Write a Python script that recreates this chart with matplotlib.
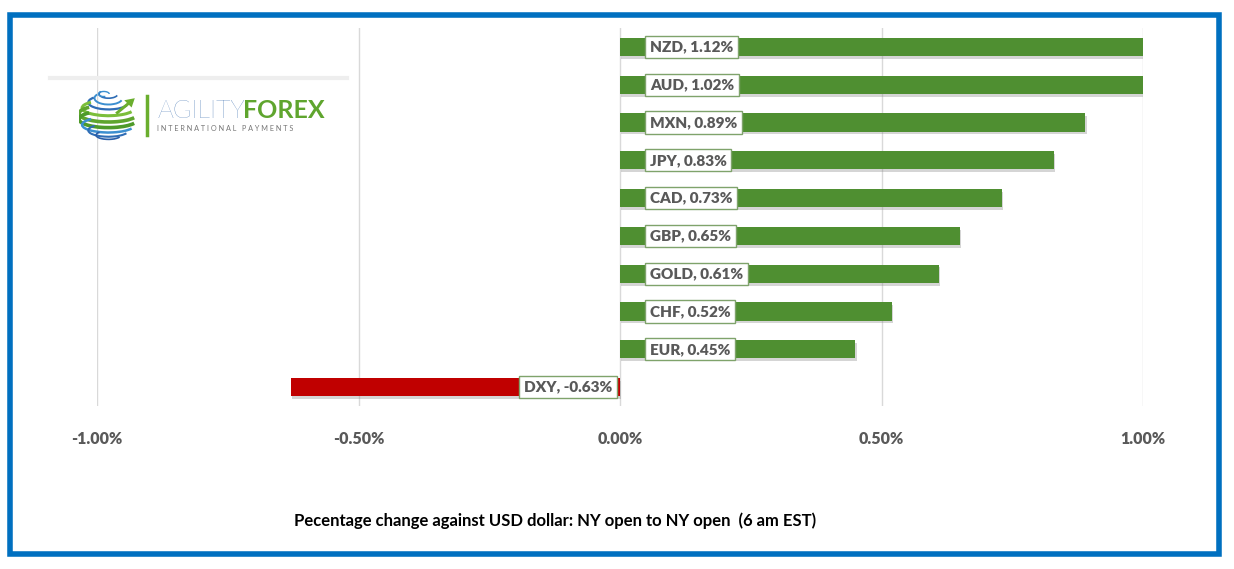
import numpy as np
import matplotlib
matplotlib.use('Agg')
import matplotlib.pyplot as plt
from matplotlib.patches import Rectangle, Arc, FancyArrow
from matplotlib.lines import Line2D
import matplotlib.patheffects as pe

plt.rcParams['font.family'] = ['Lato', 'DejaVu Sans']

# dados (variação % contra USD)
moedas = ['NZD', 'AUD', 'MXN', 'JPY', 'CAD', 'GBP', 'GOLD', 'CHF', 'EUR', 'DXY']
variacao = [1.12, 1.02, 0.89, 0.83, 0.73, 0.65, 0.61, 0.52, 0.45, -0.63]
ticks = [-1.0, -0.5, 0.0, 0.5, 1.0]
legenda = 'Pecentage change against USD dollar: NY open to NY open  (6 am EST)'

verde = '#4F8F31'
vermelho = '#C00000'
cinza_txt = '#595959'

fig = plt.figure(figsize=(12.34, 5.69), dpi=100)
W, H = 1234, 569
ax = fig.add_axes([97 / W, 1 - 406 / H, (1143 - 97) / W, (406 - 28) / H])

y = np.arange(len(moedas))[::-1]
cores = [verde if v >= 0 else vermelho for v in variacao]
sombra = [pe.SimplePatchShadow(offset=(1, -2), shadow_rgbFace='#888888', alpha=0.35), pe.Normal()]
barras = ax.barh(y, variacao, height=0.48, color=cores, zorder=3)
for b in barras:
    b.set_path_effects(sombra)

for xi in ticks:
    ax.axvline(xi, color='#D9D9D9', lw=1, zorder=1)

# rótulos das barras
for yi, m, v in zip(y, moedas, variacao):
    txt = '%s, %.2f%%' % (m, v)
    if v >= 0:
        ax.annotate(txt, xy=(0, yi), xytext=(30, 0), textcoords='offset pixels',
                    ha='left', va='center', fontsize=11, fontweight='heavy', color=cinza_txt,
                    bbox=dict(boxstyle='square,pad=0.3', fc='white', ec='#7FA36B', lw=1), zorder=5)
    else:
        ax.annotate(txt, xy=(0, yi), xytext=(-8, 0), textcoords='offset pixels',
                    ha='right', va='center', fontsize=11, fontweight='heavy', color=cinza_txt,
                    bbox=dict(boxstyle='square,pad=0.3', fc='white', ec='#7FA36B', lw=1), zorder=5)

ax.set_xlim(-1, 1)
ax.set_ylim(-0.5, len(moedas) - 0.5)
ax.set_xticks(ticks)
ax.set_xticklabels(['%.2f%%' % t for t in ticks], fontsize=11.5, fontweight='heavy', color=cinza_txt)
ax.tick_params(axis='x', length=0, pad=18)
ax.set_yticks([])
for s in ax.spines.values():
    s.set_visible(False)

fig.text(555 / W, 1 - 521 / H, legenda, ha='center', va='center', fontsize=12, fontweight='bold', color='black')

# moldura azul
fig.patches.append(Rectangle((10 / W, 1 - 554 / H), 1209 / W, 539 / H, transform=fig.transFigure,
                             fill=False, ec='#0070C0', lw=4))

# logo
fig.add_artist(Line2D([50 / W, 347 / W], [1 - 78 / H, 1 - 78 / H], color='#EEEEEE', lw=3))
fig.add_artist(Line2D([147 / W, 147 / W], [1 - 96 / H, 1 - 135 / H], color='#6AAE2E', lw=2.5))
fig.text(157 / W, 1 - 118 / H, 'AGILITY', ha='left', va='baseline', fontsize=18, fontweight='light', color='#2A62A8')
fig.text(243 / W, 1 - 118 / H, 'FOREX', ha='left', va='baseline', fontsize=18, fontweight='bold', color='#5FA52E')
fig.text(157 / W, 1 - 131 / H, 'I N T E R N A T I O N A L   P A Y M E N T S', ha='left', va='baseline',
         fontsize=5.2, color='#777777')
lg = fig.add_axes([79 / W, 1 - 143 / H, 62 / W, 56 / H])
lg.set_xlim(-1.0, 1.0)
lg.set_ylim(-1.0, 1.0)
lg.axis('off')
# faixas do globo: (centro y, largura, altura, cor, espessura)
faixas = [(0.75, 0.6, 0.3, '#2F6DB5', 1.2), (0.6, 0.9, 0.45, '#3C8FD0', 1.4), (0.45, 1.3, 0.5, '#2F6DB5', 1.6),
          (0.25, 1.7, 0.55, '#7BBE3A', 2.2), (0.05, 1.9, 0.6, '#5FA52E', 2.6), (-0.15, 1.9, 0.6, '#4E9A2A', 2.6),
          (-0.35, 1.7, 0.55, '#3C8FD0', 1.8), (-0.55, 1.3, 0.45, '#2F6DB5', 1.5), (-0.72, 0.8, 0.3, '#2A5EA8', 1.2)]
for cy, w, h, c, lw in faixas:
    lg.add_patch(Arc((-0.05, cy), w, h, theta1=160, theta2=350, color=c, lw=lw))
lg.add_patch(Arc((-0.2, 0.75), 0.35, 0.18, theta1=0, theta2=300, color='#3C8FD0', lw=1))
lg.add_patch(FancyArrow(0.2, 0.05, 0.6, 0.55, width=0.1, head_width=0.35, head_length=0.3,
                        length_includes_head=True, color='#6AAE2E', lw=0))

fig.savefig('out.png', dpi=100)
